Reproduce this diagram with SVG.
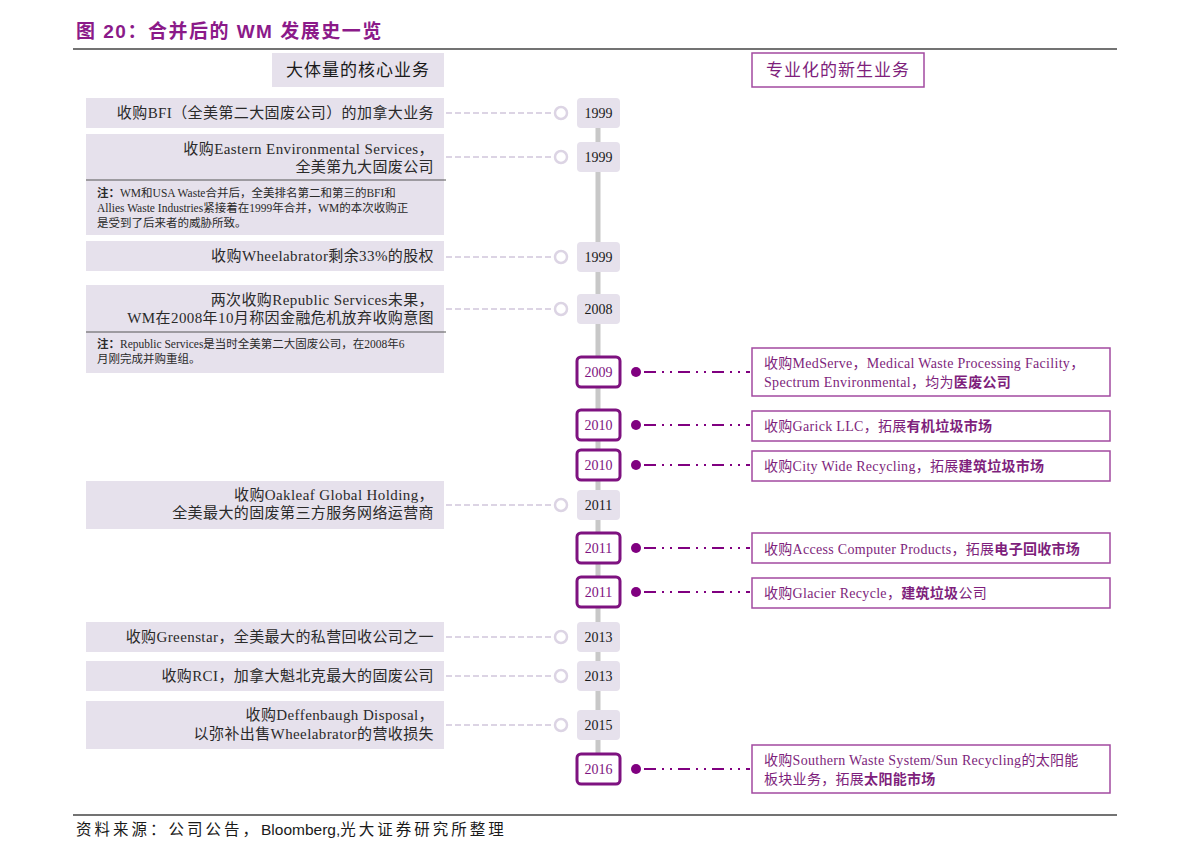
<svg xmlns="http://www.w3.org/2000/svg" width="1191" height="858" viewBox="0 0 1191 858">
<style>
.t{font-family:"Liberation Serif","Noto Sans CJK SC",serif;}
.lbox{fill:#E6E1EC;}
.ltxt{font-size:15px;fill:#2a2a2a;text-anchor:end;letter-spacing:0.4px;}
.note{font-size:11.5px;fill:#2a2a2a;}
.ybox{fill:#E6E1EC;}
.ytxt{font-size:14px;fill:#1a1a1a;text-anchor:middle;}
.pbox{fill:#fff;stroke:#7E1280;stroke-width:3;}
.ptxt{font-size:14px;fill:#7E1280;text-anchor:middle;}
.rbox{fill:#fff;stroke:#A24AA0;stroke-width:1.5;}
.rtxt{font-size:14px;fill:#7E1F7C;letter-spacing:0.3px;}
.b{font-weight:bold;}
.dash{stroke:#DCD4E4;stroke-width:2;stroke-dasharray:6 3;fill:none;}
.ring{fill:#fff;stroke:#DCD4E4;stroke-width:2.5;}
.pdash{stroke:#800080;stroke-width:2;stroke-dasharray:12 6 2 6 2 6;fill:none;}
.pdot{fill:#800080;}
.cs{letter-spacing:3px;}
</style>
<rect width="1191" height="858" fill="#fff"/>
<!-- title -->
<text x="76" y="38" style="font-family:'Liberation Sans','Noto Sans CJK SC',sans-serif;font-size:19px;font-weight:bold;fill:#8B1A89;letter-spacing:1.5px">图 20：合并后的 WM 发展史一览</text>
<line x1="73" y1="49" x2="1117" y2="49" stroke="#444" stroke-width="1.5"/>
<!-- headers -->
<g id="hdr-left">
<rect x="272" y="53" width="172" height="34" class="lbox"/>
<text class="t" x="358" y="76" text-anchor="middle" style="font-size:17px;fill:#1a1a1a;letter-spacing:1px">大体量的核心业务</text>
</g>
<g id="hdr-right">
<rect x="752" y="53" width="172" height="34" class="rbox"/>
<text class="t" x="838" y="76" text-anchor="middle" style="font-size:17px;fill:#7E1F7C;letter-spacing:1px">专业化的新生业务</text>
</g>
<!-- timeline spine -->
<g id="connectors">
<line x1="598" y1="113" x2="598" y2="769" stroke="#C8C8C8" stroke-width="5"/>
<line class="dash" x1="446" y1="113" x2="554" y2="113"/><circle class="ring" cx="561" cy="113" r="6"/>
<line class="dash" x1="446" y1="157" x2="554" y2="157"/><circle class="ring" cx="561" cy="157" r="6"/>
<line class="dash" x1="446" y1="257" x2="554" y2="257"/><circle class="ring" cx="561" cy="257" r="6"/>
<line class="dash" x1="446" y1="309" x2="554" y2="309"/><circle class="ring" cx="561" cy="309" r="6"/>
<line class="dash" x1="446" y1="505" x2="554" y2="505"/><circle class="ring" cx="561" cy="505" r="6"/>
<line class="dash" x1="446" y1="637" x2="554" y2="637"/><circle class="ring" cx="561" cy="637" r="6"/>
<line class="dash" x1="446" y1="676" x2="554" y2="676"/><circle class="ring" cx="561" cy="676" r="6"/>
<line class="dash" x1="446" y1="725" x2="554" y2="725"/><circle class="ring" cx="561" cy="725" r="6"/>
<circle class="pdot" cx="636" cy="372" r="5"/><line class="pdash" x1="644" y1="372" x2="750" y2="372"/>
<circle class="pdot" cx="636" cy="425" r="5"/><line class="pdash" x1="644" y1="425" x2="750" y2="425"/>
<circle class="pdot" cx="636" cy="465" r="5"/><line class="pdash" x1="644" y1="465" x2="750" y2="465"/>
<circle class="pdot" cx="636" cy="548" r="5"/><line class="pdash" x1="644" y1="548" x2="750" y2="548"/>
<circle class="pdot" cx="636" cy="592" r="5"/><line class="pdash" x1="644" y1="592" x2="750" y2="592"/>
<circle class="pdot" cx="636" cy="769" r="5"/><line class="pdash" x1="644" y1="769" x2="750" y2="769"/>
</g>
<!-- left boxes -->
<g id="l-bfi">
<rect class="lbox" x="86" y="98" width="358" height="30"/>
<text class="t ltxt" x="434" y="118">收购BFI（全美第二大固废公司）的加拿大业务</text>
</g>
<g id="l-eastern">
<rect class="lbox" x="86" y="134" width="358" height="101"/>
<text class="t ltxt" x="434" y="154">收购Eastern Environmental Services，</text>
<text class="t ltxt" x="434" y="172">全美第九大固废公司</text>
<line x1="86" y1="180" x2="446" y2="180" stroke="#555" stroke-width="1"/>
<text class="t note" x="97" y="197"><tspan class="b">注：</tspan>WM和USA Waste合并后，全美排名第二和第三的BFI和</text>
<text class="t note" x="97" y="212">Allies Waste Industries紧接着在1999年合并，WM的本次收购正</text>
<text class="t note" x="97" y="227">是受到了后来者的威胁所致。</text>
</g>
<g id="l-wheel">
<rect class="lbox" x="86" y="241" width="358" height="30"/>
<text class="t ltxt" x="434" y="261">收购Wheelabrator剩余33%的股权</text>
</g>
<g id="l-republic">
<rect class="lbox" x="86" y="285" width="358" height="88"/>
<text class="t ltxt" x="434" y="305">两次收购Republic Services未果，</text>
<text class="t ltxt" x="434" y="323">WM在2008年10月称因金融危机放弃收购意图</text>
<line x1="86" y1="332" x2="446" y2="332" stroke="#555" stroke-width="1"/>
<text class="t note" x="97" y="348"><tspan class="b">注：</tspan>Republic Services是当时全美第二大固废公司，在2008年6</text>
<text class="t note" x="97" y="363">月刚完成并购重组。</text>
</g>
<g id="l-oakleaf">
<rect class="lbox" x="86" y="481" width="358" height="48"/>
<text class="t ltxt" x="434" y="500">收购Oakleaf Global Holding，</text>
<text class="t ltxt" x="434" y="518">全美最大的固废第三方服务网络运营商</text>
</g>
<g id="l-greenstar">
<rect class="lbox" x="86" y="622" width="358" height="30"/>
<text class="t ltxt" x="434" y="642">收购Greenstar，全美最大的私营回收公司之一</text>
</g>
<g id="l-rci">
<rect class="lbox" x="86" y="661" width="358" height="30"/>
<text class="t ltxt" x="434" y="681">收购RCI，加拿大魁北克最大的固废公司</text>
</g>
<g id="l-deff">
<rect class="lbox" x="86" y="701" width="358" height="48"/>
<text class="t ltxt" x="434" y="720">收购Deffenbaugh Disposal，</text>
<text class="t ltxt" x="434" y="739">以弥补出售Wheelabrator的营收损失</text>
</g>
<!-- gray years -->
<g id="y1999a"><rect class="ybox" x="577" y="98" width="43" height="30" rx="4"/><text class="t ytxt" x="598.5" y="118">1999</text></g>
<g id="y1999b"><rect class="ybox" x="577" y="142" width="43" height="30" rx="4"/><text class="t ytxt" x="598.5" y="162">1999</text></g>
<g id="y1999c"><rect class="ybox" x="577" y="242" width="43" height="30" rx="4"/><text class="t ytxt" x="598.5" y="262">1999</text></g>
<g id="y2008"><rect class="ybox" x="577" y="294" width="43" height="30" rx="4"/><text class="t ytxt" x="598.5" y="314">2008</text></g>
<g id="y2011a"><rect class="ybox" x="577" y="490" width="43" height="30" rx="4"/><text class="t ytxt" x="598.5" y="510">2011</text></g>
<g id="y2013a"><rect class="ybox" x="577" y="622" width="43" height="30" rx="4"/><text class="t ytxt" x="598.5" y="642">2013</text></g>
<g id="y2013b"><rect class="ybox" x="577" y="661" width="43" height="30" rx="4"/><text class="t ytxt" x="598.5" y="681">2013</text></g>
<g id="y2015"><rect class="ybox" x="577" y="710" width="43" height="30" rx="4"/><text class="t ytxt" x="598.5" y="730">2015</text></g>
<!-- purple years -->
<g id="p2009"><rect class="pbox" x="577" y="357" width="43" height="30" rx="4"/><text class="t ptxt" x="598.5" y="377">2009</text></g>
<g id="p2010a"><rect class="pbox" x="577" y="410" width="43" height="30" rx="4"/><text class="t ptxt" x="598.5" y="430">2010</text></g>
<g id="p2010b"><rect class="pbox" x="577" y="450" width="43" height="30" rx="4"/><text class="t ptxt" x="598.5" y="470">2010</text></g>
<g id="p2011b"><rect class="pbox" x="577" y="533" width="43" height="30" rx="4"/><text class="t ptxt" x="598.5" y="553">2011</text></g>
<g id="p2011c"><rect class="pbox" x="577" y="577" width="43" height="30" rx="4"/><text class="t ptxt" x="598.5" y="597">2011</text></g>
<g id="p2016"><rect class="pbox" x="577" y="754" width="43" height="30" rx="4"/><text class="t ptxt" x="598.5" y="774">2016</text></g>
<!-- right boxes -->
<g id="r-medserve">
<rect class="rbox" x="752" y="348" width="358" height="48"/>
<text class="t rtxt" x="764" y="368">收购MedServe，Medical Waste Processing Facility，</text>
<text class="t rtxt" x="764" y="387">Spectrum Environmental，均为<tspan class="b">医废公司</tspan></text>
</g>
<g id="r-garick">
<rect class="rbox" x="752" y="411" width="358" height="30"/>
<text class="t rtxt" x="764" y="431">收购Garick LLC，拓展<tspan class="b">有机垃圾市场</tspan></text>
</g>
<g id="r-citywide">
<rect class="rbox" x="752" y="451" width="358" height="30"/>
<text class="t rtxt" x="764" y="471">收购City Wide Recycling，拓展<tspan class="b">建筑垃圾市场</tspan></text>
</g>
<g id="r-access">
<rect class="rbox" x="752" y="533" width="358" height="30"/>
<text class="t rtxt" x="764" y="554">收购Access Computer Products，拓展<tspan class="b">电子回收市场</tspan></text>
</g>
<g id="r-glacier">
<rect class="rbox" x="752" y="578" width="358" height="30"/>
<text class="t rtxt" x="764" y="598">收购Glacier Recycle，<tspan class="b">建筑垃圾</tspan>公司</text>
</g>
<g id="r-southern">
<rect class="rbox" x="752" y="745" width="358" height="48"/>
<text class="t rtxt" x="764" y="765">收购Southern Waste System/Sun Recycling的太阳能</text>
<text class="t rtxt" x="764" y="784">板块业务，拓展<tspan class="b">太阳能市场</tspan></text>
</g>
<!-- footer -->
<line x1="73" y1="815" x2="1117" y2="815" stroke="#444" stroke-width="1.5"/>
<text x="76" y="835" style="font-family:'Liberation Sans','Noto Sans CJK SC',sans-serif;font-size:15.5px;fill:#1a1a1a"><tspan class="cs">资料来源：公司公告，</tspan><tspan>Bloomberg,</tspan><tspan class="cs">光大证券研究所整理</tspan></text>
</svg>
